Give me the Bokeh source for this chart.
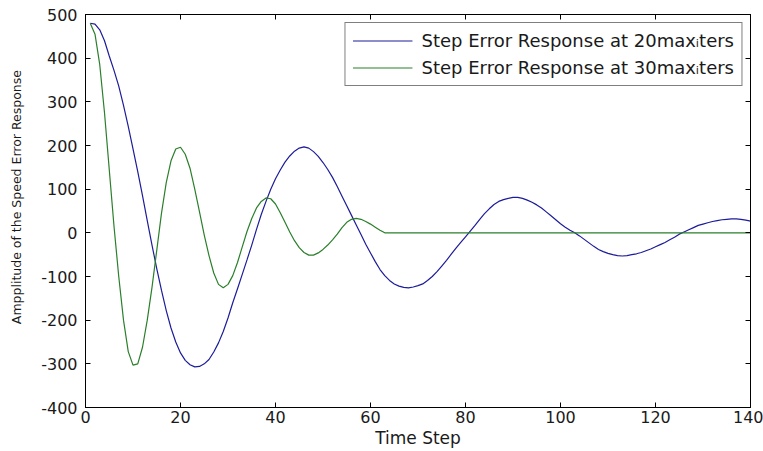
from bokeh.plotting import figure
from bokeh.models import Range1d, FixedTicker, LinearAxis, Legend, LegendItem
from bokeh.embed import file_html
from bokeh.resources import INLINE

# ---- data ----
err_20 = [480, 478, 465, 440, 405, 372, 336, 292, 244, 192,
          140, 85, 28, -28, -82, -132, -178, -218, -250, -275,
          -292, -302, -307, -306, -300, -290, -273, -252, -226, -195,
          -160, -128, -95, -62, -28, 8, 42, 72, 100, 124,
          144, 162, 176, 187, 194, 197, 194, 186, 175, 161,
          145, 127, 106, 84, 62, 40, 18, -4, -26, -46,
          -66, -84, -98, -109, -117, -122, -125, -126, -124, -121,
          -117, -109, -100, -89, -76, -63, -49, -35, -22, -9,
          4, 17, 31, 44, 55, 65, 72, 76, 79, 81,
          81, 79, 75, 70, 64, 57, 48, 39, 30, 21,
          13, 6, 0, -7, -15, -23, -31, -38, -43, -47,
          -50, -52, -53, -52, -50, -48, -45, -41, -37, -32,
          -27, -22, -16, -10, -3, 2, 7, 12, 17, 20,
          23, 26, 28, 30, 31, 32, 32, 31, 29, 27]

err_30 = [480, 455, 385, 275, 145, 15, -100, -200, -272, -303,
          -300, -262, -200, -125, -40, 45, 115, 165, 192, 196,
          180, 148, 100, 48, -5, -52, -92, -118, -126, -118,
          -98, -68, -32, 3, 33, 57, 72, 80, 78, 66,
          46, 24, 2, -18, -34, -45, -51, -51, -46, -38,
          -28, -16, -3, 12, 24, 31, 33, 31, 26, 20,
          13, 6, 0, 0, 0, 0, 0, 0, 0, 0,
          0, 0, 0, 0, 0, 0, 0, 0, 0, 0,
          0, 0, 0, 0, 0, 0, 0, 0, 0, 0,
          0, 0, 0, 0, 0, 0, 0, 0, 0, 0,
          0, 0, 0, 0, 0, 0, 0, 0, 0, 0,
          0, 0, 0, 0, 0, 0, 0, 0, 0, 0,
          0, 0, 0, 0, 0, 0, 0, 0, 0, 0,
          0, 0, 0, 0, 0, 0, 0, 0, 0, 0]

time_20 = list(range(1, len(err_20) + 1))
time_30 = list(range(1, len(err_30) + 1))

x_ticks = [0, 20, 40, 60, 80, 100, 120, 140]
y_ticks = [-400, -300, -200, -100, 0, 100, 200, 300, 400, 500]
series_labels = ["Step Error Response at 20max\u1d62ters",
                 "Step Error Response at 30max\u1d62ters"]
x_title = "Time Step"
y_title = "Ampplitude of the Speed Error Response"

FONT = "DejaVu Sans"
BLUE = "#1c1c9a"
GREEN = "#2a7f2a"
TXT = "#1a1a1a"

p = figure(width=763, height=451, output_backend="svg", toolbar_location=None,
           x_range=Range1d(0, 140), y_range=Range1d(-400, 500),
           min_border_left=85, min_border_right=13, min_border_top=14,
           min_border_bottom=44)
p.xgrid.visible = False
p.ygrid.visible = False
p.outline_line_color = "black"
p.background_fill_color = "white"
p.border_fill_color = "white"

r1 = p.line(time_20, err_20, line_color=BLUE, line_width=1.2)
r2 = p.line(time_30, err_30, line_color=GREEN, line_width=1.2)

def style_axis(ax, ticks):
    ax.ticker = FixedTicker(ticks=ticks)
    ax.major_label_overrides = {t: str(t) for t in ticks}
    ax.major_tick_in = 5
    ax.major_tick_out = 0
    ax.minor_tick_line_color = None
    ax.axis_line_color = "black"
    ax.major_tick_line_color = "black"
    ax.major_label_text_font = FONT
    ax.major_label_text_color = TXT
    ax.axis_label_text_font = FONT
    ax.axis_label_text_font_style = "normal"
    ax.axis_label_text_color = TXT

xa = p.xaxis[0]
style_axis(xa, x_ticks)
xa.major_label_text_font_size = "16px"
xa.major_label_standoff = 3
xa.axis_label = x_title
xa.axis_label_text_font_size = "17px"
xa.axis_label_standoff = 2

ya = p.yaxis[0]
style_axis(ya, y_ticks)
ya.major_label_text_font_size = "16px"
ya.major_label_standoff = 8
# leading no-break spaces nudge the centred label slightly upwards, as in the reference
ya.axis_label = "\u00a0" * 7 + y_title
ya.axis_label_text_font_size = "12.5px"
ya.axis_label_standoff = 14

# box ticks on the top and right (no labels)
top = LinearAxis()
style_axis(top, x_ticks)
top.major_label_text_font_size = "1px"
top.major_label_text_color = None
top.major_label_standoff = 0
p.add_layout(top, "above")

right = LinearAxis()
style_axis(right, y_ticks)
right.major_label_text_font_size = "1px"
right.major_label_text_color = None
right.major_label_standoff = 0
p.add_layout(right, "right")

legend = Legend(items=[LegendItem(label=series_labels[0], renderers=[r1]),
                       LegendItem(label=series_labels[1], renderers=[r2])],
                location="top_right", margin=8, padding=7, spacing=6,
                glyph_width=60, glyph_height=21, label_height=21,
                label_standoff=9, label_text_font=FONT,
                label_text_font_size="18px", label_text_color=TXT,
                border_line_color="black", border_line_width=1,
                background_fill_color="white", background_fill_alpha=1)
p.add_layout(legend)

open("out.html", "w").write(file_html(p, INLINE))
